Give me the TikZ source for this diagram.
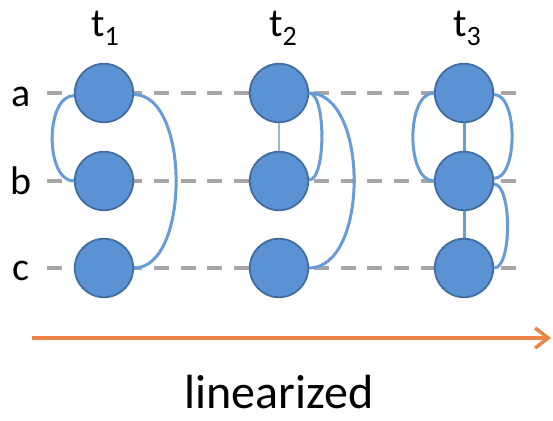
\documentclass[tikz,border=0pt]{standalone}
\usepackage{fontspec}
\setmainfont{Carlito}
\usetikzlibrary{arrows.meta}
\definecolor{nodefill}{RGB}{91,146,211}
\definecolor{nodeborder}{RGB}{65,108,160}
\definecolor{edgeblue}{RGB}{104,155,216}
\definecolor{thinblue}{RGB}{150,185,225}
\definecolor{dashgray}{RGB}{166,166,166}
\definecolor{arroworange}{RGB}{236,132,70}
\tikzset{
  vert/.style={circle, fill=nodefill, draw=nodeborder, line width=1.8pt, minimum size=58.5pt, inner sep=0pt},
  dashline/.style={dashgray, line width=3.5pt, dash pattern=on 15pt off 11.7pt},
  edge/.style={edgeblue, line width=3pt},
  thinedge/.style={thinblue, line width=1.4pt},
  rowlab/.style={anchor=base, inner sep=0pt, font=\fontsize{40}{40}\selectfont},
  tlab/.style={anchor=base, inner sep=0pt, font=\fontsize{40}{40}\selectfont},
  biglab/.style={anchor=base, inner sep=0pt, font=\fontsize{48}{48}\selectfont},
}
\newcommand{\subtxt}[1]{\raisebox{-9pt}{\fontsize{28}{28}\selectfont #1}}
\begin{document}
\begin{tikzpicture}[x=1pt,y=-1pt]
\useasboundingbox (0,0) rectangle (553,420);
\fill[white] (0,0) rectangle (553,420);
% dashed rows
\coordinate (la) at (47,93);  \coordinate (ra) at (518,93);
\coordinate (lb) at (47,181); \coordinate (rb) at (518,181);
\coordinate (lc) at (47,268); \coordinate (rc) at (518,268);
\draw[dashline] (la) -- (ra);
\draw[dashline] (lb) -- (rb);
\draw[dashline] (lc) -- (rc);
% row labels
\node[rowlab] (txa) at (21,106) {a};
\node[rowlab] (txb) at (21,194) {b};
\node[rowlab] (txc) at (21,280) {c};
% time labels
\node[tlab] (t1) at (105,37) {t\subtxt{1}};
\node[tlab] (t2) at (283,37) {t\subtxt{2}};
\node[tlab] (t3) at (467,37) {t\subtxt{3}};
% vertices
\node[vert] (a1) at (104,93) {};
\node[vert] (b1) at (104,181) {};
\node[vert] (c1) at (104,268) {};
\node[vert] (a2) at (279,93) {};
\node[vert] (b2) at (279,181) {};
\node[vert] (c2) at (279,268) {};
\node[vert] (a3) at (464,93) {};
\node[vert] (b3) at (464,181) {};
\node[vert] (c3) at (464,268) {};
% straight edges
\draw[thinedge] (a2.south) -- (b2.north);
\draw[edge] (a3.south) -- (b3.north);
\draw[edge] (b3.south) -- (c3.north);
% arcs t1
\draw[edge] (a1.185) .. controls +(-29,0) and +(-29,0) .. (b1.180);
\draw[edge] (a1.-3) .. controls +(56,0) and +(56,0) .. (c1.0);
% arcs t2
\draw[edge] (a2.0) .. controls +(17,0) and +(17,0) .. (b2.2);
\draw[edge] (a2.0) .. controls +(60,0) and +(60,0) .. (c2.0);
% arcs t3
\draw[edge] (a3.180) .. controls +(-28,0) and +(-28,0) .. (b3.180);
\draw[edge] (a3.-3) .. controls +(24,0) and +(24,0) .. (b3.5);
\draw[edge] (b3.-6) .. controls +(18,0) and +(18,0) .. (c3.0);
% arrow
\coordinate (arrS) at (32,338);
\coordinate (arrE) at (551,338);
\draw[arroworange, line width=3.5pt, -{Straight Barb[length=13pt, width=20pt, line width=3.5pt]}] (arrS) -- (arrE);
% caption
\node[biglab] (lin) at (279,408) {linearized};
\end{tikzpicture}
\end{document}
